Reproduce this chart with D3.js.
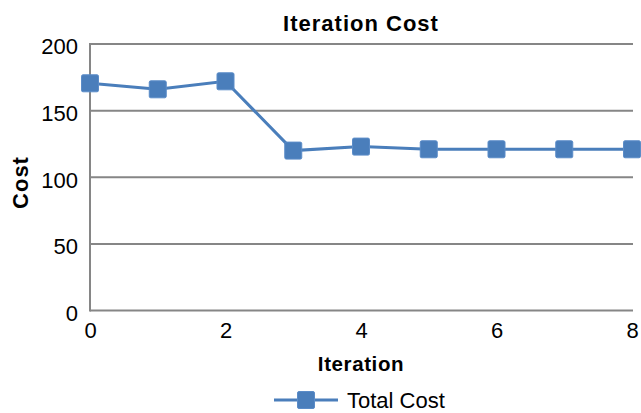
<!DOCTYPE html>
<html><head><meta charset="utf-8">
<script src="https://cdn.jsdelivr.net/npm/d3@7"></script>
<style>body{margin:0;background:#fff}svg{display:block;font-family:"Liberation Sans",Arial,sans-serif}</style>
</head><body>
<svg id="c" width="641" height="413"></svg>
<script>
const iterations = [0,1,2,3,4,5,6,7,8];
const totalCost = [170.5,166,172,120,123,121,121,121,121];
const yTicks = [0,50,100,150,200];
const xTicks = [0,2,4,6,8];
const title = "Iteration Cost", xTitle = "Iteration", yTitle = "Cost", seriesName = "Total Cost";

const svg = d3.select("#c");
const x = d3.scaleLinear().domain([0,8]).range([90,632]);
const y = d3.scaleLinear().domain([0,200]).range([310.5,44]);
const blue = "#4a7ebb", grid = "#868686";

svg.append("g").selectAll("line").data(yTicks).join("line")
  .attr("x1",90).attr("x2",633).attr("y1",d=>y(d)).attr("y2",d=>y(d))
  .attr("stroke",grid).attr("stroke-width",2);
svg.append("line").attr("x1",90).attr("x2",90).attr("y1",y(200)-1).attr("y2",y(0)+1)
  .attr("stroke",grid).attr("stroke-width",2);

const yAx = svg.append("g").attr("transform","translate(90,0)")
  .call(d3.axisLeft(y).tickValues(yTicks).tickSize(0).tickPadding(12));
yAx.select(".domain").remove();
yAx.selectAll("text").attr("font-size",22).attr("fill","#000").attr("font-family","Liberation Sans, Arial, sans-serif").attr("dy","0.45em");

const xAx = svg.append("g").attr("transform","translate(0,310.5)")
  .call(d3.axisBottom(x).tickValues(xTicks).tickSize(0).tickPadding(12).tickFormat(d3.format("d")));
xAx.select(".domain").remove();
xAx.selectAll("text").attr("font-size",22).attr("fill","#000").attr("font-family","Liberation Sans, Arial, sans-serif");

svg.append("path").datum(iterations.map((d,i)=>[d,totalCost[i]]))
  .attr("fill","none").attr("stroke",blue).attr("stroke-width",3)
  .attr("d",d3.line().x(d=>x(d[0])).y(d=>y(d[1])));
svg.append("g").selectAll("rect").data(iterations.map((d,i)=>[d,totalCost[i]])).join("rect")
  .attr("x",d=>x(d[0])-8.5).attr("y",d=>y(d[1])-8.5).attr("width",17).attr("height",17)
  .attr("rx",1.5).attr("fill",blue).attr("stroke","#5b8cc8").attr("stroke-width",1);

svg.append("text").attr("x",361).attr("y",31).attr("text-anchor","middle")
  .attr("font-size",22).attr("font-weight","bold").attr("letter-spacing",1).text(title);
svg.append("text").attr("x",361).attr("y",371).attr("text-anchor","middle")
  .attr("font-size",20.5).attr("font-weight","bold").attr("letter-spacing",0.6).text(xTitle);
svg.append("text").attr("transform","translate(28,182.5) rotate(-90)").attr("text-anchor","middle")
  .attr("font-size",22).attr("font-weight","bold").attr("letter-spacing",1).text(yTitle);

const lg = svg.append("g");
lg.append("line").attr("x1",274).attr("x2",338).attr("y1",400).attr("y2",400).attr("stroke",blue).attr("stroke-width",3);
lg.append("rect").attr("x",306-8.5).attr("y",400-8.5).attr("width",17).attr("height",17).attr("rx",1.5)
  .attr("fill",blue).attr("stroke","#5b8cc8").attr("stroke-width",1);
lg.append("text").attr("x",347).attr("y",408).attr("font-size",22).attr("fill","#000").text(seriesName);
</script>
</body></html>
